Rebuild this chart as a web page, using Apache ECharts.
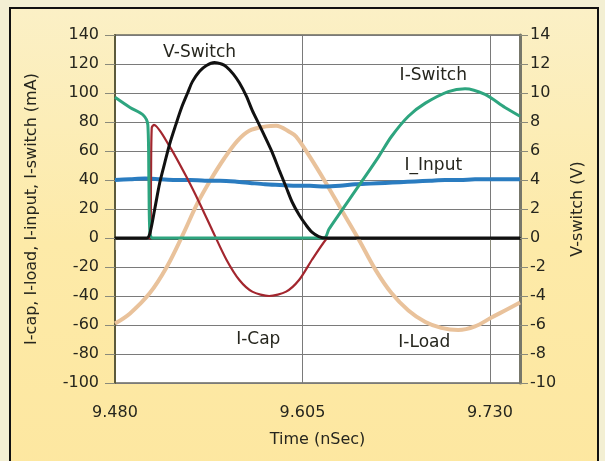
<!DOCTYPE html>
<html>
<head>
<meta charset="utf-8">
<script src="https://cdn.jsdelivr.net/npm/echarts@6/dist/echarts.min.js"></script>
<style>
html,body{margin:0;padding:0;background:#f3efd3;}
#c{width:605px;height:461px;}
</style>
</head>
<body>
<div id="c"></div>
<script>
// Time axis (nSec)
const xTicks = [9.480, 9.605, 9.730];
const leftTicks = [-100, -80, -60, -40, -20, 0, 20, 40, 60, 80, 100, 120, 140];
const rightTicks = [-10, -8, -6, -4, -2, 0, 2, 4, 6, 8, 10, 12, 14];

// V-Switch (V, right axis)
const vSwitch = [
  [9.480,0],[9.5012,0],[9.5032,0.3],[9.5065,2.0],[9.5098,3.8],[9.5132,5.2],[9.5165,6.5],
  [9.5205,7.8],[9.5244,9.0],[9.5284,10.0],[9.5317,10.8],[9.5364,11.5],[9.5410,11.9],
  [9.5463,12.1],[9.5510,12.0],[9.5543,11.8],[9.5589,11.3],[9.5629,10.7],[9.5675,9.8],
  [9.5715,8.8],[9.5762,7.8],[9.5808,6.8],[9.5848,5.9],[9.5894,4.7],[9.5941,3.5],
  [9.5980,2.5],[9.6027,1.6],[9.6073,0.9],[9.6113,0.4],[9.6159,0.1],[9.6206,0],[9.750,0]
];
// I-Cap (mA)
const iCap = [
  [9.480,0],[9.5035,0],[9.5040,40],[9.5045,76],[9.5059,78],[9.5165,63],[9.5277,42],
  [9.5364,24],[9.5450,5],[9.5543,-15],[9.5629,-29],[9.5715,-37],[9.5828,-40],
  [9.5941,-37],[9.6027,-29],[9.6113,-15],[9.6206,-1],[9.6226,0],[9.750,0]
];
// I-Switch (mA)
const iSwitch = [
  [9.480,97],[9.490,90],[9.4986,85],[9.5019,78],[9.5026,40],[9.5033,3],[9.5052,0],
  [9.6193,0],[9.6226,6],[9.6312,19],[9.6445,39],[9.6557,56],[9.6643,70],[9.6756,84],
  [9.6869,93],[9.7022,101],[9.7134,103],[9.7267,99],[9.7400,90],[9.750,84]
];
// I_Input (mA)
const iInput = [
  [9.480,40],[9.490,40.5],[9.500,41],[9.510,40.5],[9.520,40],[9.530,40],[9.540,39.5],
  [9.550,39.5],[9.560,39],[9.570,38],[9.580,37],[9.590,36.5],[9.600,36],[9.610,36],
  [9.620,35.5],[9.630,36],[9.640,37],[9.650,37.5],[9.660,38],[9.670,38.5],[9.680,39],
  [9.690,39.5],[9.700,40],[9.710,40],[9.720,40.5],[9.730,40.5],[9.740,40.5],[9.750,40.5]
];
// I-Load (mA)
const iLoad = [
  [9.480,-59],[9.4900,-52],[9.5032,-38],[9.5145,-20],[9.5251,2],[9.5350,24],[9.5437,40],
  [9.5529,55],[9.5616,67],[9.5695,74],[9.5808,77],[9.5874,77.5],[9.5967,73],[9.6007,70],
  [9.6093,57],[9.6206,38],[9.6312,19],[9.6425,-1],[9.6537,-22],[9.6643,-38],[9.6756,-50],
  [9.6869,-58],[9.6975,-62],[9.7088,-63.5],[9.7200,-61],[9.7307,-55],[9.7419,-49],[9.750,-44.5]
];
// Series name labels placed in data coordinates (left axis)
const seriesLabels = [
  {name:'V-Switch', coord:[9.5364,128]},
  {name:'I-Switch', coord:[9.6922,112]},
  {name:'I_Input', coord:[9.6922,50]},
  {name:'I-Cap', coord:[9.5755,-70]},
  {name:'I-Load', coord:[9.6862,-72]}
];

const FONT = 'DejaVu Sans';
const TXT = '#26261e';
const chart = echarts.init(document.getElementById('c'), null, {renderer:'canvas'});
chart.setOption({
  backgroundColor:'#f3efd3',
  animation:false,
  graphic:[{
    type:'rect', z:-100, silent:true,
    shape:{x:10,y:8,width:588,height:470},
    style:{
      fill:{type:'linear',x:0,y:0,x2:0,y2:1,colorStops:[{offset:0,color:'#fbf0c6'},{offset:0.5,color:'#fdeaa8'},{offset:1,color:'#fde7a0'}]},
      stroke:'#111', lineWidth:2
    }
  }],
  grid:{left:115,right:85,top:35,bottom:78,show:true,backgroundColor:'#ffffff',borderColor:'#6a6a60',borderWidth:1.5},
  xAxis:{
    type:'value', min:xTicks[0], max:9.75, interval:0.125,
    name:'Time (nSec)', nameLocation:'middle', nameGap:49,
    nameTextStyle:{fontFamily:FONT,fontSize:16,color:TXT},
    axisLine:{show:true,lineStyle:{color:'#111',width:2.5}},
    axisTick:{show:true,length:12,lineStyle:{color:'#8a8a7a'}},
    axisLabel:{margin:22,fontFamily:FONT,fontSize:16,color:TXT,showMaxLabel:false,
      formatter:v=>v.toFixed(3)},
    splitLine:{show:true,lineStyle:{color:'#7a7a7a',width:1}}
  },
  yAxis:[{
    type:'value', min:leftTicks[0], max:leftTicks[leftTicks.length-1], interval:20,
    name:'I-cap, I-load, I-input, I-switch (mA)', nameLocation:'middle', nameGap:75,
    nameTextStyle:{fontFamily:FONT,fontSize:16,color:TXT},
    axisLine:{show:true,lineStyle:{color:'#5c5a3c',width:2}},
    axisTick:{show:true,length:10,lineStyle:{color:'#8a8a7a'}},
    axisLabel:{margin:16,fontFamily:FONT,fontSize:16,color:TXT},
    splitLine:{show:true,lineStyle:{color:'#7a7a7a',width:1}}
  },{
    type:'value', min:rightTicks[0], max:rightTicks[rightTicks.length-1], interval:2, position:'right',
    name:'V-switch (V)', nameLocation:'middle', nameGap:50, nameRotate:90,
    nameTextStyle:{fontFamily:FONT,fontSize:16,color:TXT},
    axisLine:{show:true,lineStyle:{color:'#77776a',width:3}},
    axisTick:{show:true,length:8,lineStyle:{color:'#8a8a7a'}},
    axisLabel:{margin:10,fontFamily:FONT,fontSize:16,color:TXT},
    splitLine:{show:false}
  }],
  series:[
    {name:'I-Load',type:'line',data:iLoad,showSymbol:false,smooth:0.35,z:2,
     lineStyle:{color:'#e9c29b',width:4}},
    {name:'I_Input',type:'line',data:iInput,showSymbol:false,smooth:0.3,z:3,
     lineStyle:{color:'#2a7cc0',width:4},
     markPoint:{symbol:'circle',symbolSize:0,silent:true,
       label:{show:true,position:'inside',formatter:'{b}',fontFamily:FONT,fontSize:17,color:TXT},
       data:seriesLabels.map(d=>({name:d.name,coord:d.coord}))}},
    {name:'I-Cap',type:'line',data:iCap,showSymbol:false,smooth:0.25,z:4,
     lineStyle:{color:'#a3262e',width:2.2}},
    {name:'I-Switch',type:'line',data:iSwitch,showSymbol:false,smooth:0.3,z:5,
     lineStyle:{color:'#2ea57f',width:3}},
    {name:'V-Switch',type:'line',yAxisIndex:1,data:vSwitch,showSymbol:false,smooth:0.3,z:6,
     lineStyle:{color:'#111111',width:3}}
  ]
});
</script>
</body>
</html>
